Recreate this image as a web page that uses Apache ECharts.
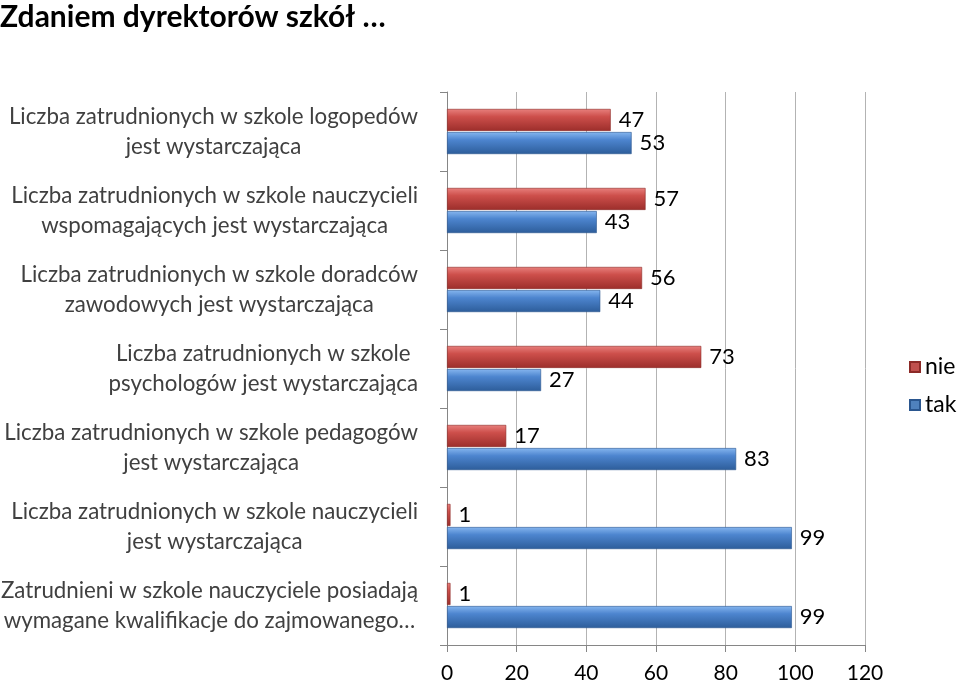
<!DOCTYPE html>
<html>
<head>
<meta charset="utf-8">
<script src="https://cdn.jsdelivr.net/npm/echarts@6/dist/echarts.min.js"></script>
<style>
  html, body { margin: 0; padding: 0; background: #fff; }
  #main { width: 960px; height: 685px; }
</style>
</head>
<body>
<div id="main"></div>
<script>
const categories = [
  "Liczba zatrudnionych w szkole logopedów\njest wystarczająca",
  "Liczba zatrudnionych w szkole nauczycieli\nwspomagających jest wystarczająca",
  "Liczba zatrudnionych w szkole doradców\nzawodowych jest wystarczająca",
  "Liczba zatrudnionych w szkole\npsychologów jest wystarczająca",
  "Liczba zatrudnionych w szkole pedagogów\njest wystarczająca",
  "Liczba zatrudnionych w szkole nauczycieli\njest wystarczająca",
  "Zatrudnieni w szkole nauczyciele posiadają\nwymagane kwalifikacje do zajmowanego…",
];
const nieValues = [47, 57, 56, 73, 17, 1, 1];
const takValues = [53, 43, 44, 27, 83, 99, 99];

const FONT = "Lato, 'Open Sans', sans-serif";

const chart = echarts.init(document.getElementById("main"));

const redGrad = new echarts.graphic.LinearGradient(0, 0, 0, 1, [
  { offset: 0, color: "#e8807d" },
  { offset: 0.35, color: "#cd4f4b" },
  { offset: 1, color: "#9c2e2b" },
]);
const blueGrad = new echarts.graphic.LinearGradient(0, 0, 0, 1, [
  { offset: 0, color: "#86b6ef" },
  { offset: 0.35, color: "#4d85cf" },
  { offset: 1, color: "#2d5d9a" },
]);

const option = {
  backgroundColor: "#fff",
  textStyle: { fontFamily: FONT },
  title: {
    text: "Zdaniem dyrektorów szkół …",
    left: 0,
    top: 2,
    padding: 0,
    textStyle: { fontFamily: FONT, fontWeight: "bold", fontSize: 30, color: "#000" },
  },
  legend: {
    orient: "vertical",
    left: 909,
    top: 355,
    padding: 0,
    icon: "rect",
    itemWidth: 10,
    itemHeight: 10,
    itemGap: 14,
    data: [
      { name: "nie", itemStyle: { color: "#c0504d" } },
      { name: "tak", itemStyle: { color: "#4f81bd" } },
    ],
    textStyle: { fontFamily: FONT, fontSize: 23, lineHeight: 24, color: "#000" },
  },
  grid: { left: 447, right: 95, top: 92, bottom: 40, outerBoundsMode: "none" },
  xAxis: {
    type: "value",
    min: 0,
    max: 120,
    interval: 20,
    axisLine: { show: true, lineStyle: { color: "#868686" } },
    axisTick: { show: true, length: 7, lineStyle: { color: "#868686" } },
    splitLine: { show: true, lineStyle: { color: "#b3b3b3" } },
    axisLabel: { fontFamily: FONT, fontSize: 21, color: "#000", margin: 18 },
  },
  yAxis: {
    type: "category",
    inverse: true,
    data: categories,
    axisLine: { show: true, lineStyle: { color: "#868686" } },
    axisTick: { show: true, length: 7, alignWithLabel: false, lineStyle: { color: "#868686" } },
    axisLabel: {
      margin: 29,
      align: "right",
      lineHeight: 30,
      formatter: (v) => v.split("\n").map((l) => "{a|" + l + "}").join("\n"),
      rich: {
        a: { fontFamily: FONT, fontSize: 22.3, color: "#404040", align: "center", lineHeight: 30 },
      },
    },
  },
  series: [
    {
      name: "nie",
      type: "bar",
      data: nieValues,
      barWidth: 22,
      barGap: "5%",
      itemStyle: { color: redGrad, borderColor: "#8c2a27", borderWidth: 0.6 },
      label: {
        show: true,
        position: "right",
        distance: 8,
        fontFamily: FONT,
        fontSize: 22,
        color: "#000",
      },
    },
    {
      name: "tak",
      type: "bar",
      data: takValues,
      barWidth: 22,
      barGap: "5%",
      itemStyle: { color: blueGrad, borderColor: "#2a568f", borderWidth: 0.6 },
      label: {
        show: true,
        position: "right",
        distance: 8,
        fontFamily: FONT,
        fontSize: 22,
        color: "#000",
      },
    },
  ],
};

chart.setOption(option);
</script>
</body>
</html>
